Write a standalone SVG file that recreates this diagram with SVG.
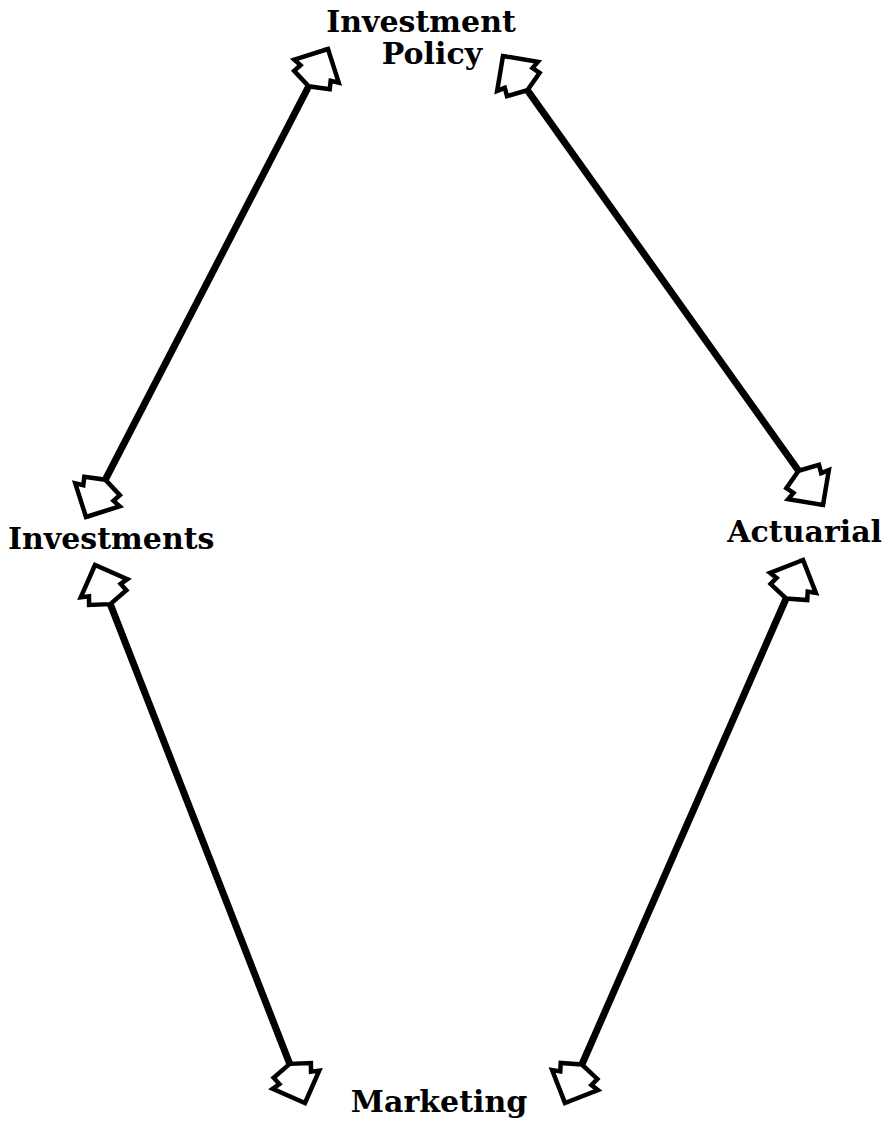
<svg xmlns="http://www.w3.org/2000/svg" width="892" height="1124" viewBox="0 0 892 1124">
<style>
.lbl{font-family:"DejaVu Serif","Liberation Serif",serif;font-weight:bold;font-size:30px;fill:#000}
.con{stroke:#000;stroke-width:7;fill:none}
</style>
<defs>
<marker id="ah" markerUnits="userSpaceOnUse" viewBox="-55 -35 65 70" refX="0" refY="0" markerWidth="65" markerHeight="70" orient="auto-start-reverse" overflow="visible">
<path d="M0,0 L-25,-25 L-27,-17 L-35,-20 L-42,0 L-35,20 L-27,17 L-25,25 Z" fill="#fff" stroke="#000" stroke-width="4.5" stroke-linejoin="miter"/>
</marker>
</defs>
<rect width="892" height="1124" fill="#fff"/>
<g id="connectors">
<line class="con" x1="86" y1="517" x2="328" y2="49" marker-start="url(#ah)" marker-end="url(#ah)"/>
<line class="con" x1="503" y1="56" x2="823" y2="505" marker-start="url(#ah)" marker-end="url(#ah)"/>
<line class="con" x1="95" y1="565" x2="305" y2="1103" marker-start="url(#ah)" marker-end="url(#ah)"/>
<line class="con" x1="803" y1="560" x2="565" y2="1103" marker-start="url(#ah)" marker-end="url(#ah)"/>
</g>
<g id="node-investment-policy">
<text class="lbl" x="421" y="32" text-anchor="middle">Investment</text>
<text class="lbl" x="432" y="64" text-anchor="middle">Policy</text>
</g>
<g id="node-investments">
<text class="lbl" x="8" y="549">Investments</text>
</g>
<g id="node-actuarial">
<text class="lbl" x="882" y="542" text-anchor="end">Actuarial</text>
</g>
<g id="node-marketing">
<text class="lbl" x="439" y="1112" text-anchor="middle">Marketing</text>
</g>
</svg>
